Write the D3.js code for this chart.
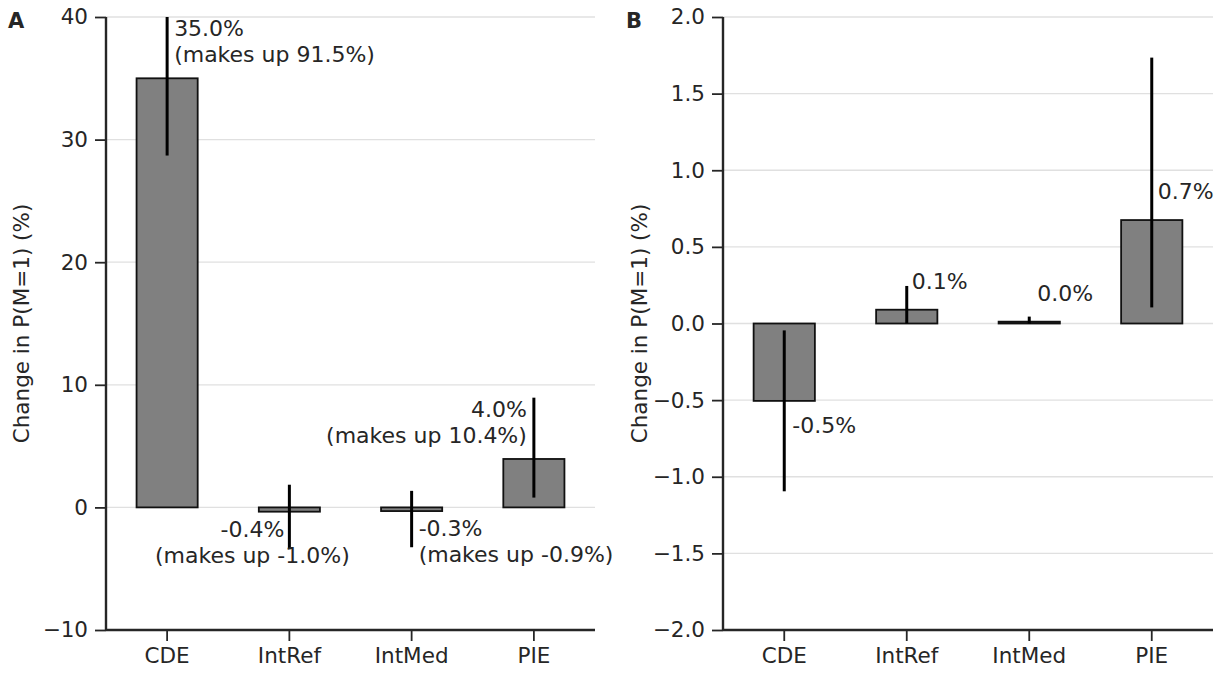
<!DOCTYPE html>
<html>
  <head>
    <meta charset="utf-8">
    <title>Change in P(M=1)</title>
    <script src="https://cdnjs.cloudflare.com/ajax/libs/d3/7.8.5/d3.min.js"></script>
    <style>
      body { margin: 0; background: #fff; }
      svg text { font-family: "DejaVu Sans", sans-serif; fill: #262626; }
    </style>
  </head>
  <body>
    <script>

      // data
      var categories = ["CDE", "IntRef", "IntMed", "PIE"];

      var effectA = [35.0, -0.35, -0.3, 3.95];
      var lowerA  = [28.7, -3.4, -3.25, 0.8];
      var upperA  = [41.3, 1.85, 1.35, 8.95];
      var labelA  = [
        ["35.0%", "(makes up 91.5%)"],
        ["-0.4%", "(makes up -1.0%)"],
        ["-0.3%", "(makes up -0.9%)"],
        ["4.0%", "(makes up 10.4%)"]
      ];
      var ticksA = [-10, 0, 10, 20, 30, 40];

      var effectB = [-0.505, 0.09, 0.012, 0.675];
      var lowerB  = [-1.095, 0.0, 0.0, 0.105];
      var upperB  = [-0.045, 0.245, 0.045, 1.735];
      var labelB  = [["-0.5%"], ["0.1%"], ["0.0%"], ["0.7%"]];
      var ticksB = [-2.0, -1.5, -1.0, -0.5, 0.0, 0.5, 1.0, 1.5, 2.0];

      var width = 1226, height = 673;
      var plotTop = 17, plotBottom = 630;

      var svg = d3.select("body").append("svg")
        .attr("width", width)
        .attr("height", height);

      var minus = function(s) { return s.replace("-", "\u2212"); };

      function drawPanel(p) {
        var x = d3.scaleBand().domain(categories)
          .range([p.left, p.right])
          .paddingInner(0.5).paddingOuter(0.25);
        var y = d3.scaleLinear().domain(p.domain).range([plotBottom, plotTop]);

        var g = svg.append("g");
        var clipId = "clip" + p.letter;
        svg.append("clipPath").attr("id", clipId)
          .append("rect")
          .attr("x", p.left).attr("y", plotTop)
          .attr("width", p.right - p.left).attr("height", plotBottom - plotTop);

        // grid
        g.selectAll(".grid").data(p.ticks.filter(function(t) { return t > p.domain[0]; }))
          .enter().append("line")
          .attr("x1", p.left).attr("x2", p.right)
          .attr("y1", function(d) { return y(d); })
          .attr("y2", function(d) { return y(d); })
          .attr("stroke", "#e0e0e0").attr("stroke-width", 1.3);

        var rows = categories.map(function(c, i) {
          return { cat: c, v: p.effect[i], lo: p.lower[i], hi: p.upper[i], lab: p.labels[i], i: i };
        });

        var plot = g.append("g").attr("clip-path", "url(#" + clipId + ")");

        plot.selectAll("rect.bar").data(rows).enter().append("rect")
          .attr("class", "bar")
          .attr("x", function(d) { return x(d.cat); })
          .attr("width", x.bandwidth())
          .attr("y", function(d) { return y(Math.max(0, d.v)); })
          .attr("height", function(d) { return Math.abs(y(d.v) - y(0)); })
          .attr("fill", "#808080")
          .attr("stroke", "#111")
          .attr("stroke-width", 1.8);

        plot.selectAll("line.err").data(rows).enter().append("line")
          .attr("x1", function(d) { return x(d.cat) + x.bandwidth() / 2; })
          .attr("x2", function(d) { return x(d.cat) + x.bandwidth() / 2; })
          .attr("y1", function(d) { return y(d.lo); })
          .attr("y2", function(d) { return y(d.hi); })
          .attr("stroke", "#000")
          .attr("stroke-width", 3);

        // annotations
        rows.forEach(function(d) {
          var cx = x(d.cat) + x.bandwidth() / 2;
          var anchor = p.anchor[d.i];
          var tx = cx + p.dx[d.i];
          var n = d.lab.length;
          var base;
          if (d.v >= 0) base = y(d.v) - p.posOff - (n - 1) * p.lineH;
          else base = y(d.v) + p.negOff;
          var t = g.append("text")
            .attr("text-anchor", anchor)
            .style("font-size", "22px");
          d.lab.forEach(function(s, k) {
            t.append("tspan").attr("x", tx).attr("y", base + k * p.lineH).text(s);
          });
        });

        // axes
        var yAxis = d3.axisLeft(y).tickValues(p.ticks).tickFormat(p.fmt)
          .tickSize(11).tickPadding(7);
        var yG = g.append("g").attr("transform", "translate(" + p.left + ",0)").call(yAxis);
        var xAxis = d3.axisBottom(x).tickSize(11).tickPadding(7);
        var xG = g.append("g").attr("transform", "translate(0," + plotBottom + ")").call(xAxis);

        [yG, xG].forEach(function(a) {
          a.select(".domain").attr("stroke", "#262626").attr("stroke-width", 2.4);
          a.selectAll(".tick line").attr("stroke", "#262626").attr("stroke-width", 1.8);
          a.selectAll(".tick text").style("font-size", "21.5px")
            .style("font-family", "DejaVu Sans, sans-serif").attr("fill", "#262626");
        });
        // flat domain ends like matplotlib spines
        yG.select(".domain").attr("d", "M0," + plotTop + "V" + plotBottom);
        xG.select(".domain").attr("d", "M" + p.left + ",0H" + p.right);

        g.append("text")
          .attr("transform", "translate(" + p.ylabX + "," + ((plotTop + plotBottom) / 2) + ") rotate(-90)")
          .attr("text-anchor", "middle")
          .attr("dy", "0.35em")
          .style("font-size", "21.5px")
          .text("Change in P(M=1) (%)");

        g.append("text")
          .attr("x", p.letterX).attr("y", 28)
          .style("font-size", "21px").style("font-weight", "bold")
          .text(p.letter);
      }

      drawPanel({
        letter: "A", letterX: 8,
        left: 106, right: 595,
        domain: [-10, 40], ticks: ticksA,
        fmt: function(d) { return minus(d3.format("d")(d)); },
        effect: effectA, lower: lowerA, upper: upperA, labels: labelA,
        anchor: ["start", "middle", "start", "end"],
        dx: [7, -37, 7, -7],
        posOff: 16, negOff: 25, lineH: 26,
        ylabX: 21
      });

      drawPanel({
        letter: "B", letterX: 626,
        left: 723, right: 1213,
        domain: [-2, 2], ticks: ticksB,
        fmt: function(d) { return minus(d3.format(".1f")(d)); },
        effect: effectB, lower: lowerB, upper: upperB, labels: labelB,
        anchor: ["start", "start", "start", "start"],
        dx: [8, 5, 8, 6],
        posOff: 21, negOff: 32, lineH: 26,
        ylabX: 639
      });

    </script>
  </body>
</html>
